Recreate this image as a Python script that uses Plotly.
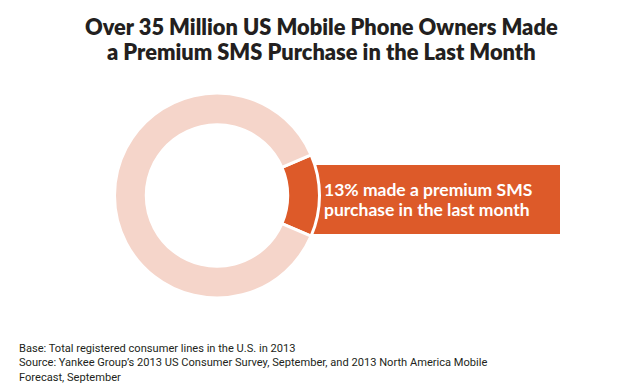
import plotly.graph_objects as go

W, H = 629, 391

labels = ["Made a premium SMS purchase", "Did not make a premium SMS purchase"]
values = [13, 87]
colors = ["#DD5A29", "#F5D5CA"]

title_lines = [
    "Over 35 Million US Mobile Phone Owners Made",
    "a Premium SMS Purchase in the Last Month",
]
callout_lines = [
    "13% made a premium SMS",
    "purchase in the last month",
]
footer_lines = [
    "Base: Total registered consumer lines in the U.S. in 2013",
    "Source: Yankee Group\u2019s 2013 US Consumer Survey, September, and 2013 North America Mobile",
    "Forecast, September",
]

cx, cy, R = 209, 187.5, 102.5
share = values[0] / sum(values)
rotation = 90 - share * 360 / 2

fig = go.Figure()
fig.add_trace(go.Pie(
    labels=labels,
    values=values,
    sort=False,
    direction="clockwise",
    rotation=rotation,
    hole=0.69,
    marker=dict(colors=colors, line=dict(color="white", width=3)),
    textinfo="none",
    hoverinfo="label+percent",
    showlegend=False,
    domain=dict(x=[(cx - R) / W, (cx + R) / W], y=[1 - (cy + R) / H, 1 - (cy - R) / H]),
))

fig.add_shape(type="rect", xref="paper", yref="paper",
              x0=290 / W, x1=552 / W, y0=1 - 226 / H, y1=1 - 157 / H,
              fillcolor=colors[0], line=dict(width=0), layer="below")

for i, line in enumerate(callout_lines):
    fig.add_annotation(text=line, xref="paper", yref="paper",
                       x=314 / W, y=1 - (181 + 20.5 * i) / H, xanchor="left", yanchor="middle",
                       align="left", showarrow=False,
                       font=dict(family="Lato", size=17.5, color="white", weight="bold"))

for i, line in enumerate(title_lines):
    fig.add_annotation(text=line, xref="paper", yref="paper",
                       x=313 / W, y=1 - (18 + 26 * i) / H, xanchor="center", yanchor="middle",
                       align="center", showarrow=False,
                       font=dict(family="Lato", size=21.8, color="#231F20", weight=800))

for i, line in enumerate(footer_lines):
    fig.add_annotation(text=line, xref="paper", yref="paper",
                       x=9 / W, y=1 - (340 + 14.5 * i) / H, xanchor="left", yanchor="middle",
                       align="left", showarrow=False,
                       font=dict(family="Roboto", size=11.1, color="#231F20"))

fig.update_layout(width=W, height=H, margin=dict(l=0, r=0, t=0, b=0),
                  paper_bgcolor="white", plot_bgcolor="white")

fig.write_html("out.html")
